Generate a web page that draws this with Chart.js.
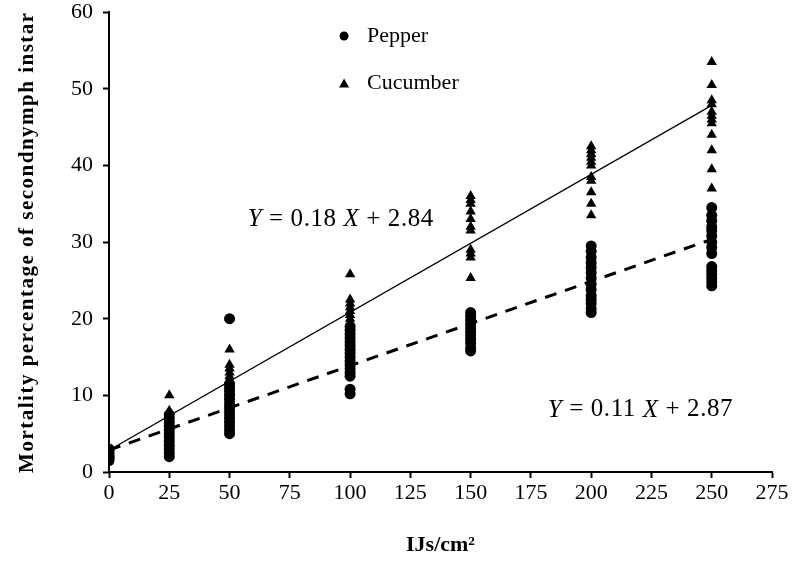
<!DOCTYPE html>
<html>
<head>
<meta charset="utf-8">
<script src="https://cdn.jsdelivr.net/npm/chart.js@4.4.1/dist/chart.umd.min.js"></script>
<style>
  html, body { margin: 0; padding: 0; background: #fff; overflow: hidden; }
  /* chart.js reserves room above the top tick label; pull the canvas up to match the figure */
  #wrap { width: 795px; height: 574px; margin-top: -11px; }
</style>
</head>
<body>
<div id="wrap"><canvas id="mortalityChart"></canvas></div>
<script>
// IJ doses (x)
const doses = [0, 25, 50, 100, 150, 200, 250];

// Pepper mortality readings per dose
const pepper_0 = [1.5, 1.8, 2.0, 2.2, 2.5, 2.8, 3.0];
const pepper_25 = [2.0, 2.5, 3.0, 3.5, 4.0, 4.5, 5.0, 5.5, 6.0, 6.5, 7.0, 7.5];
const pepper_50 = [5.0, 5.5, 6.0, 6.5, 7.0, 7.5, 8.0, 8.5, 9.0, 9.5, 10.0, 10.5, 11.0, 11.5, 20.0];
const pepper_100 = [10.2, 10.8, 12.5, 13.0, 13.5, 14.0, 14.5, 15.0, 15.5, 16.0, 16.5, 17.0, 17.5, 18.0, 18.5, 19.0];
const pepper_150 = [15.8, 16.2, 16.8, 17.3, 17.8, 18.3, 18.8, 19.3, 19.8, 20.3, 20.8];
const pepper_200 = [20.8, 21.3, 22.0, 22.5, 23.0, 23.8, 24.5, 25.3, 26.0, 26.7, 27.3, 28.0, 28.8, 29.5];
const pepper_250 = [24.3, 24.8, 25.3, 25.8, 26.3, 26.8, 28.5, 29.3, 30.0, 30.8, 31.5, 32.0, 32.8, 33.5, 34.5];

// Cucumber mortality readings per dose
const cucumber_0 = [2.0, 2.5, 3.0];
const cucumber_25 = [5.0, 5.5, 6.0, 6.5, 7.0, 7.5, 8.0, 10.0];
const cucumber_50 = [9.0, 10.0, 11.0, 11.5, 12.0, 12.5, 13.0, 13.5, 14.0, 16.0];
const cucumber_100 = [17.0, 18.0, 19.0, 19.5, 20.0, 20.5, 21.0, 21.5, 22.0, 22.5, 25.8];
const cucumber_150 = [25.3, 28.0, 28.5, 29.0, 31.5, 32.0, 33.0, 34.0, 35.0, 35.5, 36.0];
const cucumber_200 = [33.5, 35.0, 36.5, 38.0, 38.5, 40.0, 40.5, 41.0, 41.5, 42.0, 42.5];
const cucumber_250 = [37.0, 39.5, 42.0, 44.0, 45.5, 46.0, 46.5, 47.0, 48.0, 48.5, 50.5, 53.5];

// fitted lines printed on the figure: [slope, intercept]
const cucumberFit = [0.18, 2.84];
const pepperFit = [0.11, 2.87];
const fitRange = [0, 250];

const xTicksMax = 275;
const yTicksMax = 60;

const pepperGroups = [pepper_0, pepper_25, pepper_50, pepper_100, pepper_150, pepper_200, pepper_250];
const cucumberGroups = [cucumber_0, cucumber_25, cucumber_50, cucumber_100, cucumber_150, cucumber_200, cucumber_250];

function toPoints(groups) {
    const pts = [];
    groups.forEach((vals, i) => vals.forEach(v => pts.push({ x: doses[i], y: v })));
    return pts;
}

function fitLine(fit) {
    return fitRange.map(x => ({ x: x, y: fit[0] * x + fit[1] }));
}

const SERIF = '"Liberation Serif", "Times New Roman", serif';
const yTitle = 'Mortality percentage of secondnymph instar';

// legend, equations and the spaced-out y title
const overlayText = {
    id: 'overlayText',
    afterDatasetsDraw(chart) {
        const { ctx } = chart;
        const xs = chart.scales.x, ys = chart.scales.y;
        ctx.save();
        ctx.fillStyle = '#000';

        // legend
        const lx = xs.getPixelForValue(97.5);
        const py = ys.getPixelForValue(56.9);
        ctx.beginPath();
        ctx.arc(lx, py, 4.5, 0, Math.PI * 2);
        ctx.fill();
        const ty = ys.getPixelForValue(50.7);
        ctx.beginPath();
        ctx.moveTo(lx, ty - 5);
        ctx.lineTo(lx + 5, ty + 4);
        ctx.lineTo(lx - 5, ty + 4);
        ctx.closePath();
        ctx.fill();
        ctx.font = '22px ' + SERIF;
        ctx.textBaseline = 'middle';
        ctx.textAlign = 'left';
        ctx.fillText('Pepper', lx + 23, py);
        ctx.fillText('Cucumber', lx + 23, ty);

        // equations
        drawEquation(ctx, xs.getPixelForValue(57.5), ys.getPixelForValue(32.9), '0.18', '2.84');
        drawEquation(ctx, xs.getPixelForValue(182), ys.getPixelForValue(8.1), '0.11', '2.87');

        // y title
        ctx.save();
        ctx.translate(28, (ys.top + ys.bottom) / 2);
        ctx.rotate(-Math.PI / 2);
        ctx.font = 'bold 21px ' + SERIF;
        ctx.letterSpacing = '1.5px';
        ctx.textAlign = 'center';
        ctx.textBaseline = 'middle';
        ctx.fillText(yTitle, 0, 0);
        ctx.restore();

        ctx.restore();
    }
};

function drawEquation(ctx, x, y, slope, icpt) {
    const parts = [
        ['italic', 'Y'], ['normal', ' = ' + slope + ' '], ['italic', 'X'], ['normal', ' + ' + icpt]
    ];
    ctx.textBaseline = 'middle';
    ctx.textAlign = 'left';
    ctx.letterSpacing = '0.6px';
    let cx = x;
    parts.forEach(([style, txt]) => {
        ctx.font = style + ' 25px ' + SERIF;
        ctx.fillText(txt, cx, y);
        cx += ctx.measureText(txt).width;
    });
    ctx.letterSpacing = '0px';
}

const axisCommon = {
    type: 'linear',
    grid: { display: true, drawOnChartArea: false, drawTicks: true, tickLength: 6, tickColor: '#000', tickWidth: 2 },
    border: { display: true, color: '#000', width: 2 },
    ticks: { color: '#000', font: { family: SERIF, size: 22 } }
};

const mortalityChart = {
    type: 'scatter',
    data: {
        datasets: [
            {
                label: 'Pepper',
                data: toPoints(pepperGroups),
                pointStyle: 'circle',
                pointRadius: 5.5,
                backgroundColor: '#000',
                borderColor: '#000',
                borderWidth: 0
            },
            {
                label: 'Cucumber',
                data: toPoints(cucumberGroups),
                pointStyle: 'triangle',
                pointRadius: 6,
                backgroundColor: '#000',
                borderColor: '#000',
                borderWidth: 0
            },
            {
                label: 'Cucumber fit',
                type: 'line',
                data: fitLine(cucumberFit),
                borderColor: '#000',
                borderWidth: 1.2,
                pointRadius: 0,
                fill: false
            },
            {
                label: 'Pepper fit',
                type: 'line',
                data: fitLine(pepperFit),
                borderColor: '#000',
                borderWidth: 3,
                borderDash: [12, 9],
                pointRadius: 0,
                fill: false
            }
        ]
    },
    options: {
        responsive: true,
        maintainAspectRatio: false,
        animation: false,
        layout: { padding: { left: 0, right: 23, top: 0, bottom: 0 } },
        plugins: {
            legend: { display: false },
            tooltip: { enabled: false }
        },
        scales: {
            x: {
                ...axisCommon,
                min: 0,
                max: xTicksMax,
                ticks: { ...axisCommon.ticks, stepSize: 25, padding: 2 },
                title: {
                    display: true,
                    text: 'IJs/cm²',
                    color: '#000',
                    font: { family: SERIF, size: 22, weight: 'bold' },
                    padding: { top: 20 }
                },
                afterFit(scale) { scale.height = 91; }
            },
            y: {
                ...axisCommon,
                min: 0,
                max: yTicksMax,
                ticks: { ...axisCommon.ticks, stepSize: 10, padding: 10 },
                title: { display: false },
                afterFit(scale) { scale.width = 109; }
            }
        }
    },
    plugins: [overlayText]
};

const chart1 = new Chart(document.getElementById('mortalityChart'), mortalityChart);
</script>
</body>
</html>
